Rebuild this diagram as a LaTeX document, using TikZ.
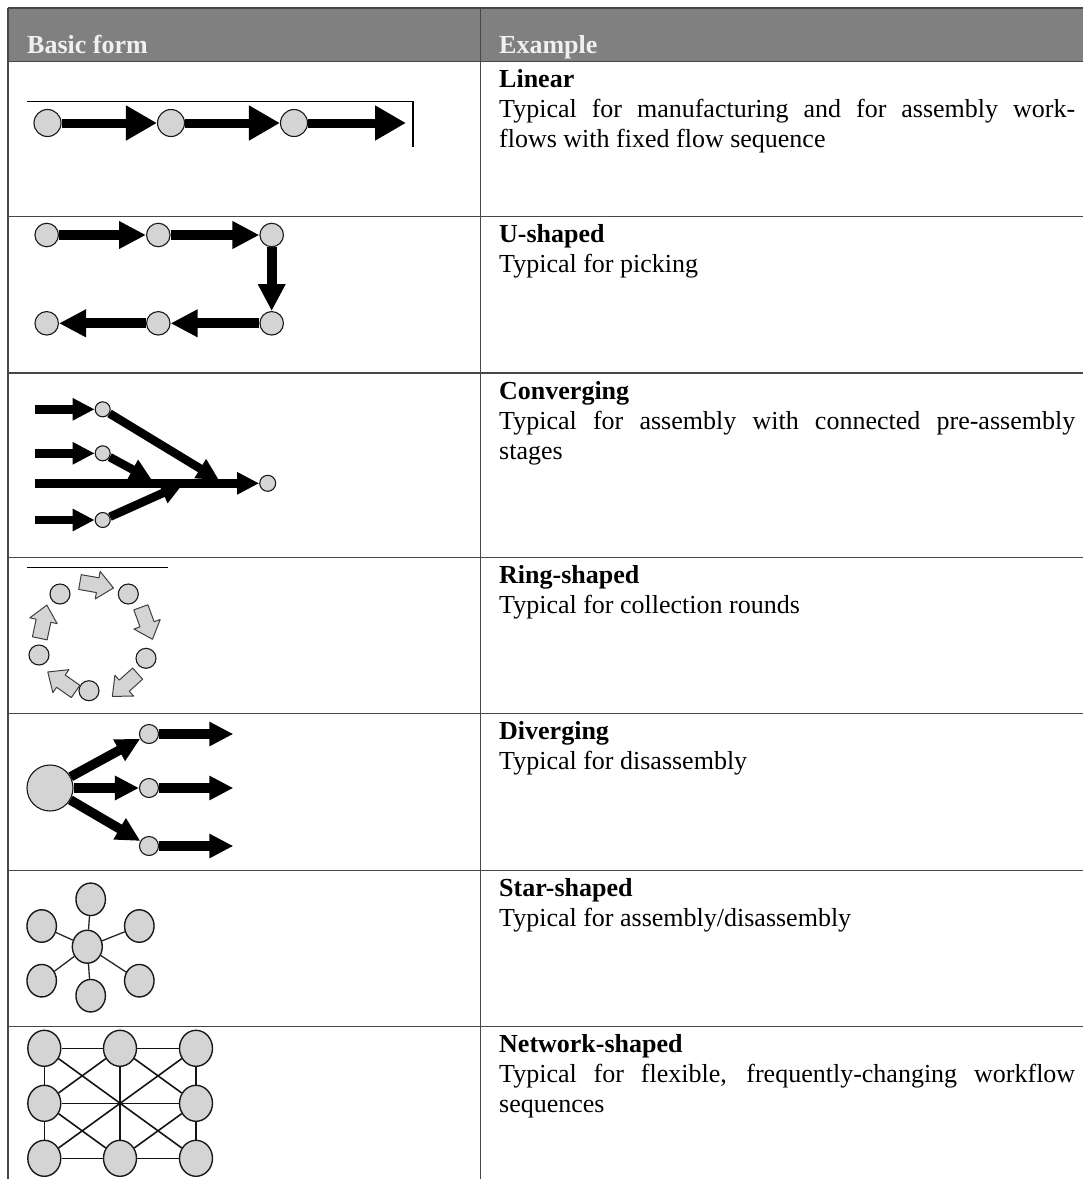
\documentclass[tikz,border=0pt]{standalone}
\usepackage{fontspec}
\setmainfont{Liberation Serif}
\usetikzlibrary{arrows.meta,shapes.geometric}
\begin{document}
\begin{tikzpicture}[x=1pt,y=-1pt,
  rule/.style={draw=black!72, line width=1.4pt},
  hdr/.style={anchor=base west, inner sep=0pt, text=white!94!black,
    font=\bfseries\fontsize{26}{30}\selectfont},
  ttl/.style={anchor=base west, inner sep=0pt, font=\bfseries\fontsize{26}{30}\selectfont},
  desc/.style={anchor=base west, inner sep=0pt, font=\fontsize{26}{30}\selectfont},
  station/.style={circle, draw=black!90, fill=black!17, line width=1.1pt,
    inner sep=0pt, minimum size=#1},
  cell/.style={ellipse, draw=black!90, fill=black!17, line width=1.4pt,
    inner sep=0pt, minimum width=#1, minimum height=#1+3pt},
  linflow/.style={line width=9pt, -{Triangle[length=31pt,width=33pt]}},
  uflow/.style={line width=10pt, -{Triangle[length=27pt,width=26pt]}},
  convflow/.style={line width=8.5pt, -{Triangle[length=22pt,width=21pt]}},
  divflow/.style={line width=9.5pt, -{Triangle[length=24pt,width=23pt]}},
  spoke/.style={draw=black!85, line width=1.3pt},
  mesh/.style={draw=black!92, line width=1.6pt},
  blockarr/.style={draw=black!75, fill=black!17, line width=1pt, line join=round},
  pics/ringarrow/.style={code={
    \draw[blockarr] (-17,-7.5) -- (1,-7.5) -- (1,-14) -- (17,0) -- (1,14) -- (1,7.5) -- (-17,7.5) -- cycle;}}
]
\useasboundingbox (0,0) rectangle (1083,1179);

% ---------- table frame ----------
\fill[black!50] (8,8) rectangle (1083,61.5);
\draw[rule] (8,8) -- (1083,8);
\foreach \yy in {61.5,216.5,373,557.5,713.5,870.5,1026.5}
  \draw[rule] (8,\yy) -- (1083,\yy);
\draw[rule] (8,8) -- (8,1179);
\draw[rule] (480.5,8) -- (480.5,1179);

\node[hdr] (hBasic) at (27,53) {Basic form};
\node[hdr] (hExample) at (499,53) {Example};

% ---------- right column texts ----------
\node[ttl]  (tLin)  at (499,87)  {Linear};
\node[desc] (dLin1) at (499,117) {\makebox[576pt][s]{Typical for manufacturing and for assembly work-}};
\node[desc] (dLin2) at (499,147) {flows with fixed flow sequence};

\node[ttl]  (tU)  at (499,242.5) {U-shaped};
\node[desc] (dU1) at (499,272.5) {Typical for picking};

\node[ttl]  (tConv)  at (499,399) {Converging};
\node[desc] (dConv1) at (499,429) {\makebox[576pt][s]{Typical for assembly with connected pre-assembly}};
\node[desc] (dConv2) at (499,459) {stages};

\node[ttl]  (tRing)  at (499,583.5) {Ring-shaped};
\node[desc] (dRing1) at (499,613.5) {Typical for collection rounds};

\node[ttl]  (tDiv)  at (499,739.5) {Diverging};
\node[desc] (dDiv1) at (499,769.5) {Typical for disassembly};

\node[ttl]  (tStar)  at (499,896.5) {Star-shaped};
\node[desc] (dStar1) at (499,926.5) {Typical for assembly/disassembly};

\node[ttl]  (tNet)  at (499,1052.5) {Network-shaped};
\node[desc] (dNet1) at (499,1082.5) {\makebox[576pt][s]{Typical for flexible, frequently-changing workflow}};
\node[desc] (dNet2) at (499,1112.5) {sequences};

% ---------- linear ----------
\draw[line width=1.4pt] (27,101.5) -- (413,101.5) -- (413,147);
\node[station=27pt] (l1) at (47.5,123) {};
\node[station=27pt] (l2) at (171,123) {};
\node[station=27pt] (l3) at (294,123) {};
\coordinate (lEnd) at (406,123);
\draw[linflow] (l1) -- (l2);
\draw[linflow] (l2) -- (l3);
\draw[linflow] (l3) -- (lEnd);

% ---------- U-shaped ----------
\node[station=23.5pt] (u1) at (46.7,235) {};
\node[station=23.5pt] (u2) at (158.3,235) {};
\node[station=23.5pt] (u3) at (271.7,235) {};
\node[station=23.5pt] (u4) at (271.7,323.3) {};
\node[station=23.5pt] (u5) at (158.3,323.3) {};
\node[station=23.5pt] (u6) at (46.7,323.3) {};
\draw[uflow] (u1) -- (u2);
\draw[uflow] (u2) -- (u3);
\draw[uflow] (u3) -- (u4);
\draw[uflow] (u4) -- (u5);
\draw[uflow] (u5) -- (u6);

% ---------- converging ----------
\node[station=15pt] (c1) at (102.7,409.3) {};
\node[station=15pt] (c2) at (102.7,453.3) {};
\node[station=15pt] (c3) at (102.7,520) {};
\node[station=16pt] (cOut) at (267.7,483.3) {};
\coordinate (cin1) at (35,409.3);
\coordinate (cin2) at (35,453.3);
\coordinate (cin3) at (35,520);
\coordinate (cin0) at (35,483.3);
\coordinate (cm1) at (219,480);
\coordinate (cm2) at (152,480);
\coordinate (cm3) at (183,484);
\draw[convflow] (cin0) -- (cOut);
\draw[convflow] (c1) -- (cm1);
\draw[convflow] (c2) -- (cm2);
\draw[convflow] (c3) -- (cm3);
\draw[convflow] (cin1) -- (c1);
\draw[convflow] (cin2) -- (c2);
\draw[convflow] (cin3) -- (c3);

% ---------- ring-shaped ----------
\draw[line width=1.2pt] (26.7,567.7) -- (168.3,567.7);
\node[station=20pt] (r1) at (60,594) {};
\node[station=20pt] (r2) at (128.3,594) {};
\node[station=20pt] (r3) at (146,658.3) {};
\node[station=20pt] (r4) at (89,690.7) {};
\node[station=20pt] (r5) at (39,655) {};
\pic[rotate=-10]  at (96.7,585)   {ringarrow};
\pic[rotate=-70]  at (146.7,623.3) {ringarrow};
\pic[rotate=-138] at (125,685)    {ringarrow};
\pic[rotate=145]  at (61.7,681.7) {ringarrow};
\pic[rotate=78]   at (43.3,621.7) {ringarrow};

% ---------- diverging ----------
\node[station=46pt] (v0) at (50,788) {};
\node[station=19pt] (v1) at (149,734) {};
\node[station=19pt] (v2) at (149,788) {};
\node[station=19pt] (v3) at (149,846) {};
\coordinate (ve1) at (233.3,734);
\coordinate (ve2) at (233.3,788);
\coordinate (ve3) at (233.3,846);
\draw[divflow] (v0) -- (v1);
\draw[divflow] (v0) -- (v2);
\draw[divflow] (v0) -- (v3);
\draw[divflow] (v1) -- (ve1);
\draw[divflow] (v2) -- (ve2);
\draw[divflow] (v3) -- (ve3);

% ---------- star-shaped ----------
\node[cell=30pt] (s0) at (87.3,946.7) {};
\node[cell=29.5pt] (s1) at (90.7,899.3) {};
\node[cell=29.5pt] (s2) at (41.7,926) {};
\node[cell=29.5pt] (s3) at (139.3,926) {};
\node[cell=29.5pt] (s4) at (41.7,980.7) {};
\node[cell=29.5pt] (s5) at (90.7,995.7) {};
\node[cell=29.5pt] (s6) at (139.3,980.7) {};
\foreach \s in {s1,s2,s3,s4,s5,s6}
  \draw[spoke] (s0) -- (\s);

% ---------- network-shaped ----------
\foreach \nm/\xx/\yy in {nTL/44.3/1048.3, nTM/120/1048.3, nTR/196/1048.3,
                         nML/44.3/1103.3, nMR/196/1103.3,
                         nBL/44.3/1158.3, nBM/120/1158.3, nBR/196/1158.3}
  \node[cell=33pt] (\nm) at (\xx,\yy) {};
\foreach \a/\b in {nTL/nTM, nTM/nTR, nBL/nBM, nBM/nBR, nML/nMR,
                   nTL/nML, nML/nBL, nTR/nMR, nMR/nBR, nTM/nBM,
                   nTL/nBR, nTR/nBL, nTM/nML, nTM/nMR, nBM/nML, nBM/nMR}
  \draw[mesh] (\a) -- (\b);
\end{tikzpicture}
\end{document}
